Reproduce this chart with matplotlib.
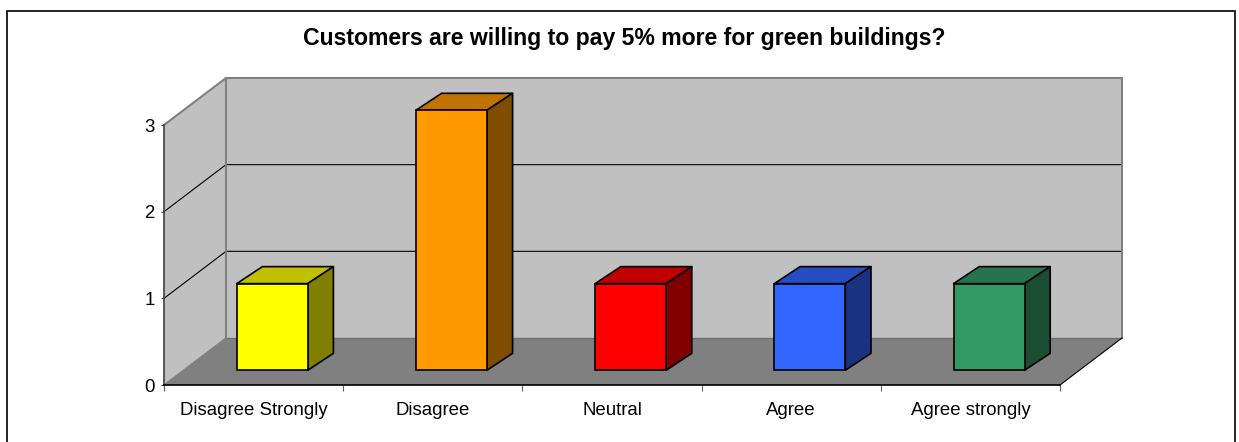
import matplotlib
matplotlib.use("Agg")
import matplotlib.pyplot as plt
from matplotlib.patches import Polygon, Rectangle

categories = ["Disagree Strongly", "Disagree", "Neutral", "Agree", "Agree strongly"]
values = [1, 3, 1, 1, 1]
front_colors = ["#FFFF00", "#FF9900", "#FF0000", "#3366FF", "#339966"]
top_colors = ["#C0C000", "#C07300", "#C00000", "#264DC0", "#267350"]
side_colors = ["#808000", "#804C00", "#800000", "#1A3380", "#1A4D33"]
title = "Customers are willing to pay 5% more for green buildings?"

W, H = 1239, 442
plt.rcParams["font.family"] = ["Liberation Sans", "DejaVu Sans"]

fig = plt.figure(figsize=(W / 100, H / 100), dpi=100)
# front plane of the fake 3d box, in pixels
left, right, top, bottom = 164, 1060, 125, 385
ax = fig.add_axes([left / W, 1 - bottom / H, (right - left) / W, (bottom - top) / H])
ax.set_xlim(-0.5, 4.5)
ax.set_ylim(0, 3)
ax.patch.set_visible(False)

# depth of the box and of the bars, in data units
unit_x = (right - left) / 5
unit_y = (bottom - top) / 3
box_dx = 62 / unit_x
box_dy = 47 / unit_y
bar_dx = 25.7 / unit_x
bar_dy = 17 / unit_y
base_dx = 18.6 / unit_x
base_dy = 14.7 / unit_y
bar_w = 71 / unit_x

x0, x1 = -0.5, 4.5
# walls
ax.add_patch(Polygon([(x0, 0), (x0 + box_dx, box_dy), (x0 + box_dx, 3 + box_dy), (x0, 3)],
                     fc="#C0C0C0", ec="none", zorder=1, clip_on=False))
ax.add_patch(Rectangle((x0 + box_dx, box_dy), x1 - x0, 3, fc="#C0C0C0", ec="none", zorder=1, clip_on=False))
ax.add_patch(Polygon([(x0, 0), (x1, 0), (x1 + box_dx, box_dy), (x0 + box_dx, box_dy)],
                     fc="#808080", ec="none", zorder=1, clip_on=False))

# gridlines
for v in [1, 2]:
    ax.plot([x0, x0 + box_dx, x1 + box_dx], [v, v + box_dy, v + box_dy], color="black", lw=0.8, zorder=2, clip_on=False)

# wall outline
gray = "#808080"
ax.plot([x0 + box_dx, x0 + box_dx], [box_dy, 3 + box_dy], color=gray, lw=1.5, zorder=2, clip_on=False)
ax.plot([x0, x0 + box_dx, x1 + box_dx, x1 + box_dx], [3, 3 + box_dy, 3 + box_dy, box_dy], color=gray, lw=1.5, zorder=2, clip_on=False)
ax.plot([x0 + box_dx, x1 + box_dx], [box_dy, box_dy], color="#707070", lw=1, zorder=2, clip_on=False)
ax.plot([x0, x0 + box_dx], [0, box_dy], color=gray, lw=1, zorder=2, clip_on=False)
ax.plot([x1, x1 + box_dx], [0, box_dy], color="black", lw=0.8, zorder=2, clip_on=False)

# bars
for i, v in enumerate(values):
    a = i - bar_w / 2 + base_dx
    b = i + bar_w / 2 + base_dx
    y0 = base_dy
    y1 = base_dy + v
    ax.add_patch(Polygon([(a, y1), (b, y1), (b + bar_dx, y1 + bar_dy), (a + bar_dx, y1 + bar_dy)],
                         fc=top_colors[i], ec="black", lw=1.2, joinstyle="round", zorder=3, clip_on=False))
    ax.add_patch(Polygon([(b, y0), (b + bar_dx, y0 + bar_dy), (b + bar_dx, y1 + bar_dy), (b, y1)],
                         fc=side_colors[i], ec="black", lw=1.2, joinstyle="round", zorder=3, clip_on=False))
    ax.add_patch(Rectangle((a, y0), b - a, v, fc=front_colors[i], ec="black", lw=1.2, zorder=4, clip_on=False))

for s in ["top", "right"]:
    ax.spines[s].set_visible(False)
ax.spines["left"].set_color("#404040")
ax.spines["left"].set_linewidth(1.2)
ax.spines["bottom"].set_linewidth(1.2)
ax.spines["left"].set_zorder(5)
ax.spines["bottom"].set_zorder(5)

ax.set_yticks([0, 1, 2, 3])
ax.tick_params(axis="y", length=2.5, width=0.8, labelsize=13.4, pad=4.4, color="#404040")
ax.set_xticks([-0.5, 0.5, 1.5, 2.5, 3.5, 4.5])
ax.set_xticklabels([])
ax.tick_params(axis="x", which="major", length=4, width=0.8, color="#606060")
ax.set_xticks([0, 1, 2, 3, 4], minor=True)
ax.set_xticklabels(categories, minor=True)
ax.tick_params(axis="x", which="minor", length=0, labelsize=13.4, pad=12)

fig.text(624 / W, 1 - 38.5 / H, title, ha="center", va="center", fontsize=16.6, fontweight="bold")

# chart frame, the bottom edge falls off the picture
fig.add_artist(Rectangle((6.5 / W, 1 - 450 / H), 1228.5 / W, 439.5 / H, transform=fig.transFigure,
                         fc="none", ec="black", lw=1.2))

fig.savefig("out.png", dpi=100)
